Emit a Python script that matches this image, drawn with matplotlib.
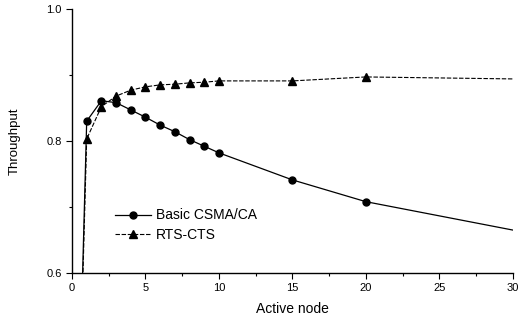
import numpy as np
import matplotlib.pyplot as plt
from matplotlib.ticker import MultipleLocator

plt.rcParams['font.family'] = ['Liberation Sans', 'DejaVu Sans']

# 数据（从图中读取，x=0 处吞吐量为 0，被坐标轴裁掉）
nodes = [0, 1, 2, 3, 4, 5, 6, 7, 8, 9, 10, 15, 20, 30]
basic = [0.0, 0.830, 0.861, 0.858, 0.847, 0.836, 0.824, 0.814, 0.802, 0.792, 0.782, 0.741, 0.708, 0.665]
rts = [0.0, 0.803, 0.852, 0.868, 0.877, 0.882, 0.885, 0.886, 0.888, 0.889, 0.891, 0.891, 0.897, 0.894]
marker_idx = list(range(1, 13))  # 30 处没有标记

fig = plt.figure(figsize=(5.18, 3.2), dpi=100)
ax = fig.add_axes([0.139, 0.147, 0.851, 0.825])

ax.plot(nodes, basic, color='black', lw=0.9, marker='o', ms=5,
        markevery=marker_idx, label='Basic CSMA/CA')
ax.plot(nodes, rts, color='black', lw=0.8, ls=(0, (4, 1.5)), marker='^', ms=5.5,
        markevery=marker_idx, label='RTS-CTS')

ax.set_xlim(0, 30)
ax.set_ylim(0.6, 1.0)
ax.xaxis.set_major_locator(MultipleLocator(5))
ax.xaxis.set_minor_locator(MultipleLocator(2.5))
ax.yaxis.set_major_locator(MultipleLocator(0.2))
ax.yaxis.set_minor_locator(MultipleLocator(0.1))
ax.set_yticklabels([f'{v:.1f}' for v in ax.get_yticks()])
ax.tick_params(which='both', direction='out', labelsize=8, width=0.8)
ax.tick_params(which='major', length=4)
ax.tick_params(which='minor', length=2.5)
for s in ['top', 'right']:
    ax.spines[s].set_visible(False)
for s in ['left', 'bottom']:
    ax.spines[s].set_linewidth(1.0)

ax.set_xlabel('Active node', fontsize=10, labelpad=6)
ax.set_ylabel('Throughput', fontsize=9.5, labelpad=18)

ax.legend(loc='lower left', bbox_to_anchor=(0.07, 0.07), frameon=False,
          fontsize=10, handlelength=2.6, handletextpad=0.3, labelspacing=0.4)

fig.savefig('out.png', dpi=100)
